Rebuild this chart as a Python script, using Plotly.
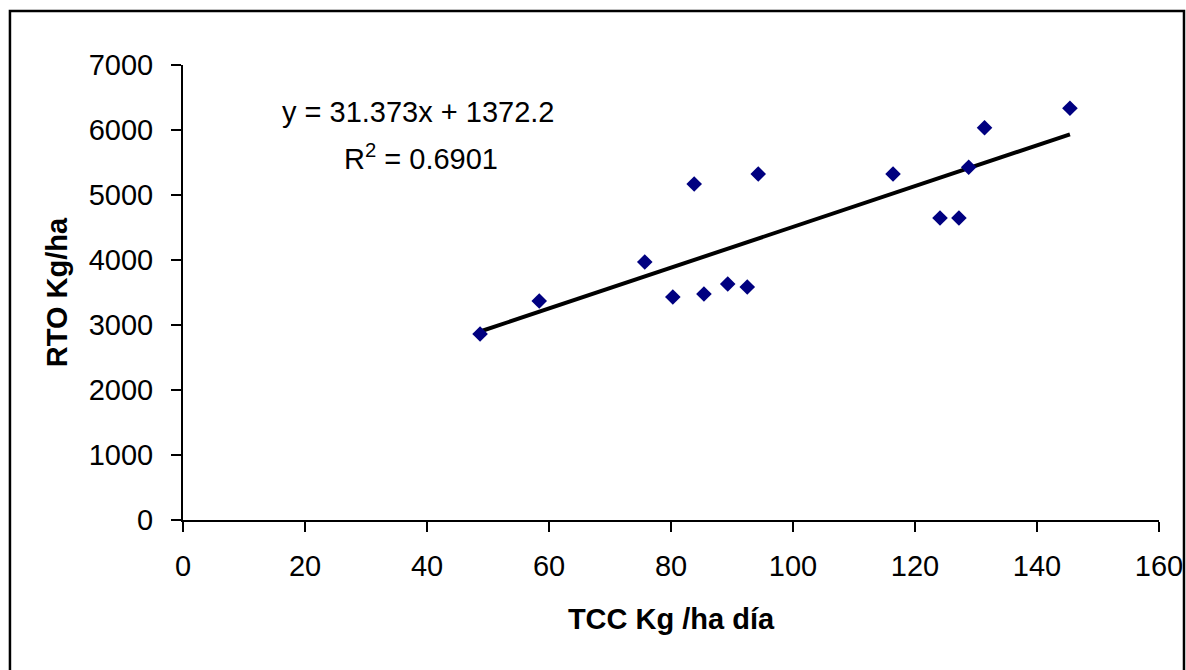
import plotly.graph_objects as go

# Data
tcc = [48.7, 58.4, 75.7, 80.3, 83.8, 85.4, 89.3, 92.5, 94.3, 116.4, 124.1, 127.2, 128.8, 131.4, 145.4]
rto = [2862, 3369, 3969, 3431, 5169, 3477, 3631, 3585, 5323, 5323, 4646, 4646, 5426, 6035, 6334]

slope = 31.373
intercept = 1372.2
r2 = 0.6901

x_ticks = [0, 20, 40, 60, 80, 100, 120, 140, 160]
y_ticks = [0, 1000, 2000, 3000, 4000, 5000, 6000, 7000]

trend_x = [min(tcc), max(tcc)]
trend_y = [slope * v + intercept for v in trend_x]

FONT = "Liberation Sans, Arial, sans-serif"

fig = go.Figure()
fig.add_trace(go.Scatter(
    x=trend_x, y=trend_y, mode="lines",
    line=dict(color="black", width=4), showlegend=False, hoverinfo="skip"))
fig.add_trace(go.Scatter(
    x=tcc, y=rto, mode="markers",
    marker=dict(symbol="diamond", size=12, color="#000080", line=dict(width=0)),
    showlegend=False))

fig.update_layout(
    width=1186, height=670, autosize=False,
    margin=dict(l=183, r=27, t=65, b=150),
    paper_bgcolor="white", plot_bgcolor="white",
    font=dict(family=FONT, color="black", size=29),
    xaxis=dict(
        range=[0, 160], tickvals=x_ticks, ticktext=[str(v) for v in x_ticks],
        automargin=False,
        showgrid=False, zeroline=False, showline=True, linecolor="black", linewidth=2,
        ticks="outside", ticklen=10, tickwidth=2, tickcolor="black",
        tickfont=dict(size=29), ticklabelstandoff=9,
        title=dict(text="<b>TCC Kg /ha día</b>", font=dict(size=29), standoff=28),
    ),
    yaxis=dict(
        range=[0, 7000], tickvals=y_ticks, ticktext=[str(v) for v in y_ticks],
        automargin=False,
        showgrid=False, zeroline=False, showline=True, linecolor="black", linewidth=2,
        ticks="outside", ticklen=10, tickwidth=2, tickcolor="black",
        tickfont=dict(size=29), ticklabelstandoff=12,
        title=dict(text="<b>RTO Kg/ha</b>", font=dict(size=29), standoff=13),
    ),
    annotations=[
        dict(text=f"y = {slope}x + {intercept}", xref="paper", yref="paper",
             x=0.2418, y=0.8974, xanchor="center", yanchor="middle",
             showarrow=False, font=dict(size=29)),
        dict(text=f"R<sup>2</sup> = {r2}", xref="paper", yref="paper",
             x=0.2440, y=0.7985, xanchor="center", yanchor="middle",
             showarrow=False, font=dict(size=29)),
    ],
    shapes=[
        dict(type="rect", xref="paper", yref="paper",
             x0=-0.1773, x1=1.0256, y0=-0.36, y1=1.1187,
             line=dict(color="black", width=2.5), fillcolor="rgba(0,0,0,0)", layer="below"),
    ],
)

fig.write_html(
    "out.html",
    config={"responsive": False},
    post_script="document.body.style.margin='0';document.body.style.overflow='hidden';",
)
